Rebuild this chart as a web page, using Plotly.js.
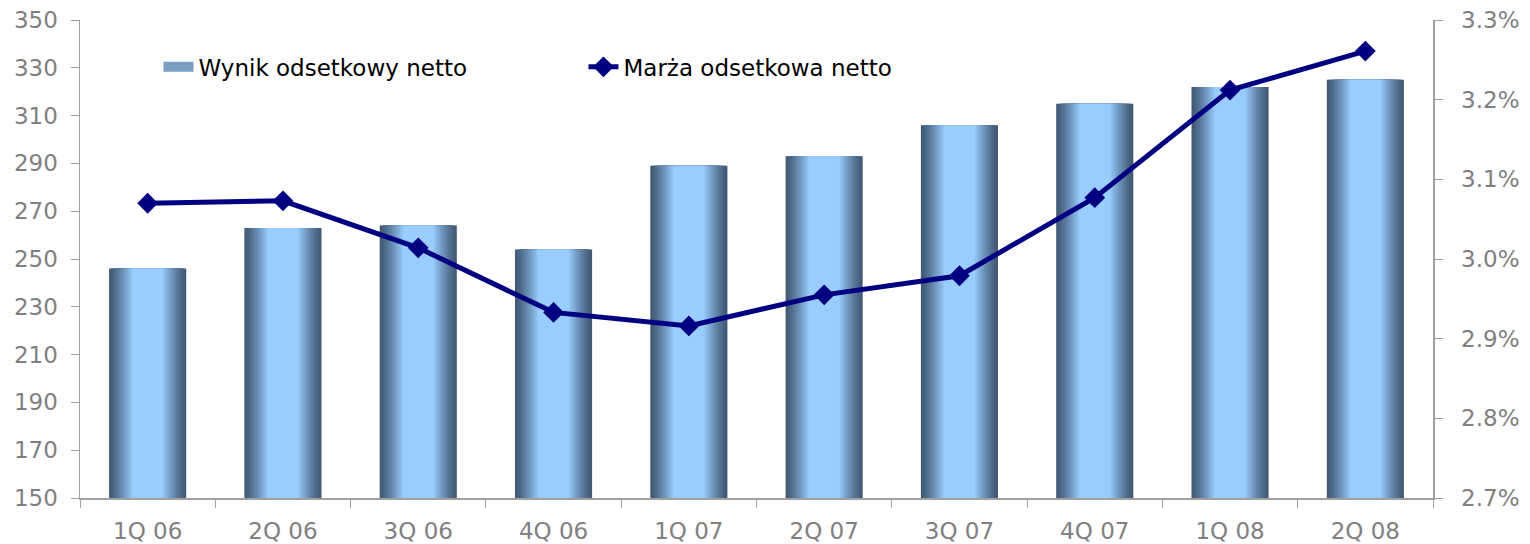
<!DOCTYPE html>
<html>
<head>
<meta charset="utf-8">
<script src="https://cdn.plot.ly/plotly-3.0.1.min.js"></script>
<style>
  html, body { margin: 0; padding: 0; background: #fff; }
  #chart { width: 1530px; height: 544px; }
</style>
</head>
<body>
<div id="chart"></div>
<script>
// ---- data ----
const categories = ["1Q 06", "2Q 06", "3Q 06", "4Q 06", "1Q 07", "2Q 07", "3Q 07", "4Q 07", "1Q 08", "2Q 08"];
const netInterestIncome = [246, 263, 264, 254, 289, 293, 306, 315, 322, 325];
const netInterestMargin = [3.07, 3.073, 3.014, 2.933, 2.916, 2.955, 2.979, 3.077, 3.212, 3.261];
const leftTicks = [150, 170, 190, 210, 230, 250, 270, 290, 310, 330, 350];
const rightTicks = [2.7, 2.8, 2.9, 3.0, 3.1, 3.2, 3.3];
const rightTickLabels = ["2.7%", "2.8%", "2.9%", "3.0%", "3.1%", "3.2%", "3.3%"];
const barName = "Wynik odsetkowy netto";
const lineName = "Marża odsetkowa netto";

// ---- style: bars drawn as nested layers to imitate a horizontal gradient ----
const BAR_W = 0.57;
const layers = 12;
const dark = [66, 90, 118];
const light = [153, 204, 255];
function mix(t) {
  const c = dark.map((d, i) => Math.round(d + (light[i] - d) * t));
  return `rgb(${c[0]},${c[1]},${c[2]})`;
}
const traces = [];
for (let k = 0; k < layers; k++) {
  const f = k * 0.027;          // fraction in from each edge
  const t = Math.pow(k / (layers - 1), 1.2);
  traces.push({
    type: "bar",
    x: categories,
    y: netInterestIncome,
    width: BAR_W * (1 - 2 * f),
    marker: { color: mix(t), line: { width: 0 } },
    name: barName,
    showlegend: false,
    hoverinfo: k === 0 ? "x+y" : "skip",
    yaxis: "y"
  });
}
// legend proxy for the bars (thick swatch)
traces.push({
  type: "scatter",
  mode: "lines",
  x: [categories[0]],
  y: [null],
  name: barName,
  line: { color: "#7a9ec4", width: 14 },
  showlegend: true,
  hoverinfo: "skip"
});
traces.push({
  type: "scatter",
  mode: "lines+markers",
  x: categories,
  y: netInterestMargin,
  name: lineName,
  yaxis: "y2",
  line: { color: "#000080", width: 5 },
  marker: { symbol: "diamond", size: 16, color: "#000080" }
});

const tickFont = { family: "DejaVu Sans, sans-serif", size: 23, color: "#808080" };
const layout = {
  width: 1530,
  height: 544,
  margin: { l: 80, r: 97, t: 20, b: 46 },
  paper_bgcolor: "#ffffff",
  plot_bgcolor: "#ffffff",
  barmode: "overlay",
  showlegend: true,
  legend: {
    orientation: "h",
    x: 0.058, y: 0.902,
    xanchor: "left", yanchor: "middle",
    font: { family: "DejaVu Sans, sans-serif", size: 23, color: "#000000" },
    bgcolor: "rgba(0,0,0,0)",
    traceorder: "normal",
    entrywidth: 380
  },
  xaxis: {
    type: "category",
    tickfont: tickFont,
    showline: true,
    linecolor: "#a0a0a0",
    linewidth: 1.5,
    ticks: "outside",
    ticklen: 8,
    tickcolor: "#a0a0a0",
    tickson: "boundaries",
    showgrid: false,
    zeroline: false,
    range: [-0.5, 9.5],
    ticklabelstandoff: 12,
    fixedrange: true
  },
  yaxis: {
    range: [150, 350],
    tickvals: leftTicks,
    tickfont: tickFont,
    showline: true,
    linecolor: "#a0a0a0",
    linewidth: 1.5,
    ticks: "outside",
    ticklen: 8,
    tickcolor: "#a0a0a0",
    showgrid: false,
    zeroline: false,
    ticklabelstandoff: 8
  },
  yaxis2: {
    overlaying: "y",
    side: "right",
    range: [2.7, 3.3],
    tickvals: rightTicks,
    ticktext: rightTickLabels,
    tickfont: tickFont,
    showline: true,
    linecolor: "#a0a0a0",
    linewidth: 1.5,
    ticks: "outside",
    ticklen: 8,
    tickcolor: "#a0a0a0",
    showgrid: false,
    zeroline: false,
    ticklabelstandoff: 14
  }
};

Plotly.newPlot("chart", traces, layout, { displayModeBar: false, staticPlot: true });
</script>
</body>
</html>
